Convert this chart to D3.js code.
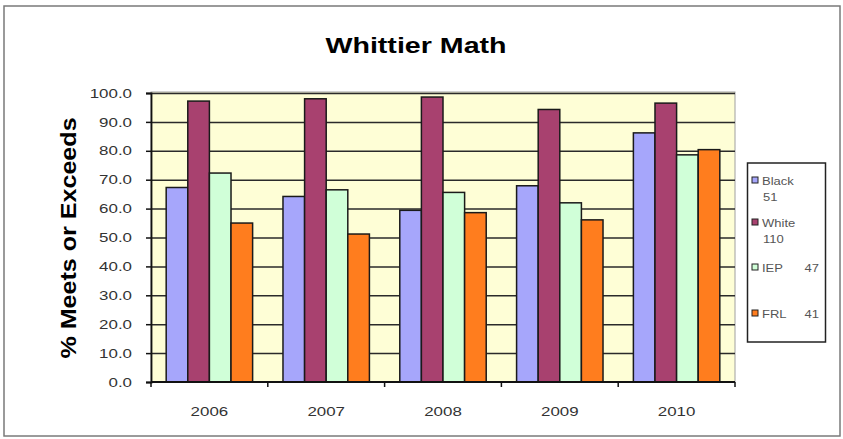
<!DOCTYPE html>
<html>
<head>
<meta charset="utf-8">
<script src="https://cdn.jsdelivr.net/npm/d3@7"></script>
<style>
  body { margin: 0; background: #fff; }
  svg { display: block; font-family: Arial, "Liberation Sans", sans-serif; }
</style>
</head>
<body>
<svg id="chart" width="843" height="439"></svg>
<script>
// dados
var years = ["2006", "2007", "2008", "2009", "2010"];
var groups = ["Black", "White", "IEP", "FRL"];
var legendCounts = ["51", "110", "47", "41"];
var black = [67.3, 64.2, 59.4, 67.9, 86.2];
var white = [97.2, 98.0, 98.6, 94.3, 96.5];
var iep = [72.3, 66.5, 65.6, 62.0, 78.6];
var frl = [55.0, 51.2, 58.6, 56.1, 80.4];
var yTicks = [0, 10, 20, 30, 40, 50, 60, 70, 80, 90, 100];

var colors = ["#a6a6fb", "#a8416f", "#d0ffd8", "#ff7d1e"];
var stretch = 1.3; // a figura original esta esticada na horizontal

var svg = d3.select("#chart");
var plot = {left: 151, right: 735, top: 92, bottom: 382};

// moldura
svg.append("rect")
    .attr("x", 4).attr("y", 6).attr("width", 836).attr("height", 430)
    .attr("fill", "#fff").attr("stroke", "#7a7a7a").attr("stroke-width", 1.5);

var xScale = d3.scaleBand()
    .domain(years)
    .range([plot.left, plot.right])
    .paddingInner(0.26).paddingOuter(0.13);
var xSub = d3.scaleBand()
    .domain(groups)
    .range([0, xScale.bandwidth()]);
var yScale = d3.scaleLinear()
    .domain([0, 100])
    .range([plot.bottom, plot.top + 1]);

// fundo da area do grafico
svg.append("rect")
    .attr("x", plot.left).attr("y", plot.top)
    .attr("width", plot.right - plot.left).attr("height", plot.bottom - plot.top)
    .attr("fill", "#fefed6").attr("stroke", "#a0a0a0").attr("stroke-width", 1);

// grade
svg.append("g")
    .attr("transform", "translate(" + plot.left + ",0)")
    .call(d3.axisLeft(yScale).tickValues(yTicks.slice(1)).tickSize(-(plot.right - plot.left)).tickFormat(""))
    .call(g => g.select(".domain").remove())
    .selectAll("line").attr("stroke", "#2a2a2a").attr("stroke-width", 1.5);

var data = [black, white, iep, frl];
var rows = [];
years.forEach((yr, i) => {
    groups.forEach((gname, j) => {
        rows.push({year: yr, group: gname, value: data[j][i], idx: j});
    });
});

svg.append("g").selectAll("rect").data(rows).enter()
    .append("rect")
    .attr("x", d => xScale(d.year) + xSub(d.group))
    .attr("y", d => yScale(d.value))
    .attr("width", xSub.bandwidth())
    .attr("height", d => plot.bottom - yScale(d.value))
    .attr("fill", d => colors[d.idx])
    .attr("stroke", "#1a1a1a").attr("stroke-width", 1.5);

// eixo y
var yAxis = svg.append("g")
    .attr("transform", "translate(" + plot.left + ",0)")
    .call(d3.axisLeft(yScale).tickValues(yTicks).tickSize(5).tickPadding(14).tickFormat(d3.format(".1f")));
yAxis.select(".domain").attr("stroke", "#111").attr("stroke-width", 1.8);
yAxis.selectAll("line").attr("stroke", "#111").attr("stroke-width", 1.5);
yAxis.selectAll("text").attr("font-size", "13px").attr("fill", "#333")
    .attr("font-family", "Arial, 'Liberation Sans', sans-serif");

// eixo x (tracos nas divisas entre anos)
var xBottom = svg.append("g").attr("transform", "translate(0," + plot.bottom + ")");
xBottom.append("line")
    .attr("x1", plot.left).attr("x2", plot.right)
    .attr("stroke", "#111").attr("stroke-width", 1.8);
var step = xScale.step();
xBottom.selectAll("line.tk").data(d3.range(years.length + 1)).enter()
    .append("line").attr("class", "tk")
    .attr("x1", i => plot.left + i * step).attr("x2", i => plot.left + i * step)
    .attr("y1", 0).attr("y2", 5)
    .attr("stroke", "#111").attr("stroke-width", 1.5);
xBottom.selectAll("text").data(years).enter()
    .append("text")
    .attr("x", d => xScale(d) + xScale.bandwidth() / 2)
    .attr("y", 34)
    .attr("text-anchor", "middle")
    .attr("font-size", "13px").attr("fill", "#333")
    .text(d => d);

// titulo
svg.append("text")
    .attr("class", "stretch")
    .attr("x", 416).attr("y", 53)
    .attr("text-anchor", "middle")
    .attr("font-size", "22px").attr("font-weight", "bold")
    .text("Whittier Math");

// titulo do eixo y
svg.append("text")
    .attr("class", "stretch-v")
    .attr("transform", "translate(76,238) rotate(-90)")
    .attr("text-anchor", "middle")
    .attr("font-size", "22px").attr("font-weight", "bold")
    .text("% Meets or Exceeds");

// legenda
var legend = svg.append("g");
legend.append("rect")
    .attr("x", 747.5).attr("y", 163).attr("width", 78).attr("height", 179)
    .attr("fill", "#fff").attr("stroke", "#222").attr("stroke-width", 1.5);
var legY = [181, 223, 268, 314];
groups.forEach((gname, j) => {
    legend.append("rect")
        .attr("x", 752).attr("y", legY[j] - 4).attr("width", 6).attr("height", 6)
        .attr("fill", colors[j]).attr("stroke", "#222").attr("stroke-width", 1);
    legend.append("text")
        .attr("x", 762).attr("y", legY[j] + 4)
        .attr("font-size", "10px").attr("fill", "#555")
        .text(gname);
    if (j < 2) {
        legend.append("text")
            .attr("x", 763).attr("y", legY[j] + 20)
            .attr("font-size", "10px").attr("fill", "#555")
            .text(legendCounts[j]);
    } else {
        legend.append("text")
            .attr("x", 819).attr("y", legY[j] + 4)
            .attr("text-anchor", "end")
            .attr("font-size", "10px").attr("fill", "#555")
            .text(legendCounts[j]);
    }
});

// esticar os textos na horizontal como na figura
svg.selectAll("text").each(function() {
    var t = d3.select(this);
    var len = this.getComputedTextLength();
    var k = t.classed("stretch-v") ? 1.14 : stretch;
    t.attr("textLength", len * k).attr("lengthAdjust", "spacingAndGlyphs");
});
</script>
</body>
</html>
